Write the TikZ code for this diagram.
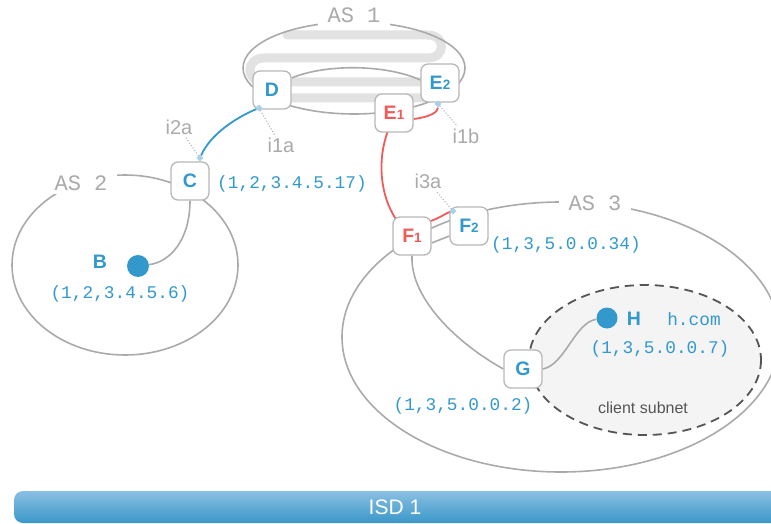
\documentclass[tikz,border=0pt]{standalone}
\usepackage{fontspec}
\setmainfont{Liberation Sans}
\newfontfamily\codefont{Liberation Mono}
\usetikzlibrary{calc, shapes.geometric}
\pgfdeclarelayer{back}
\pgfdeclarelayer{mid}
\pgfsetlayers{back,mid,main}

\definecolor{scionblue}{HTML}{3399CC}
\definecolor{scionred}{HTML}{F25A5A}
\definecolor{linegray}{HTML}{AAAAAA}
\definecolor{boxgray}{HTML}{B8B8B8}
\definecolor{labelgray}{HTML}{AAAAAA}
\definecolor{bandgray}{HTML}{E2E2E2}
\definecolor{subnetfill}{HTML}{F4F4F4}
\definecolor{dashgray}{HTML}{555555}
\definecolor{isdtop}{HTML}{8AC0E2}
\definecolor{isdbottom}{HTML}{3A97C9}
\definecolor{ifblue}{HTML}{A6D0EC}

\begin{document}
\begin{tikzpicture}[x=1pt, y=-1pt,
    router/.style={draw=boxgray, line width=1.3pt, fill=white, rounded corners=7pt,
      minimum size=38pt, inner sep=0pt, text=scionblue,
      font=\bfseries\fontsize{19.5}{20}\selectfont},
    asline/.style={draw=linegray, line width=1.6pt},
    link/.style={linegray, line width=1.6pt},
    bluelink/.style={scionblue, line width=1.8pt},
    redlink/.style={scionred, line width=1.8pt},
    aslabel/.style={fill=white, text=labelgray, inner xsep=10pt, anchor=base,
      font=\codefont\fontsize{22}{22}\selectfont},
    addr/.style={text=scionblue, inner sep=0pt, anchor=base,
      font=\codefont\fontsize{17.8}{18}\selectfont},
    iflabel/.style={text=labelgray, inner sep=2pt, anchor=base,
      font=\fontsize{20}{20}\selectfont},
    ifpoint/.style={diamond, fill=ifblue, inner sep=0pt, minimum size=7pt},
    leader/.style={labelgray, dotted, line width=1pt},
    host/.style={circle, fill=scionblue, inner sep=0pt, minimum size=22pt},
    hostname/.style={text=scionblue, anchor=base,
      font=\bfseries\fontsize{19.5}{20}\selectfont}]
  \useasboundingbox (0,0) rectangle (771,524);

  % 1. AS 外框與 client subnet
  \begin{pgfonlayer}{back}
    \draw[bandgray, line width=9pt, line cap=round] (287,35) -- (428,35)
      to[out=0, in=0, looseness=2] (428,58) -- (264,58)
      to[out=180, in=180, looseness=2] (264,82) -- (428,82)
      to[out=0, in=0, looseness=2] (428,98) -- (292,98);
    \draw[asline] (354,68) ellipse [x radius=111, y radius=46];
    \draw[asline] (125,265) ellipse [x radius=113, y radius=90];
    \draw[asline] (561,337) ellipse [x radius=219, y radius=135];
    \draw[dashgray, fill=subnetfill, line width=1.8pt, dash pattern=on 9pt off 6pt]
      (645,360) ellipse [x radius=116, y radius=75];
    \node[aslabel] (as1) at (354,23) {AS 1};
    \node[aslabel] (as2) at (81,190) {AS 2};
    \node[aslabel] (as3) at (595,210) {AS 3};
  \end{pgfonlayer}

  % 2. 路由器與主機
  \node[router] (D) at (272,90) {D};
  \node[router] (E2) at (440,83) {E{\fontsize{13.5}{13}\selectfont 2}};
  \node[router, text=scionred] (E1) at (394,113) {E{\fontsize{13.5}{13}\selectfont 1}};
  \node[router] (C) at (190,181) {C};
  \node[router, text=scionred] (F1) at (412,236) {F{\fontsize{13.5}{13}\selectfont 1}};
  \node[router] (F2) at (469,226) {F{\fontsize{13.5}{13}\selectfont 2}};
  \node[router] (G) at (523,369) {G};
  \node[host] (B) at (138,266) {};
  \node[host, minimum size=21pt] (H) at (607,318) {};

  % 3. 介面
  \node[ifpoint] (ifC) at (200,158) {};
  \node[ifpoint] (ifD) at (259,108) {};
  \node[ifpoint] (ifE) at (438,104) {};
  \node[ifpoint] (ifF) at (453,211) {};

  % 4. 連線
  \begin{pgfonlayer}{mid}
    \draw[bluelink] (ifC) .. controls (210,135) and (235,118) .. (ifD);
    \draw[link] (C.south) .. controls (190,240) and (170,262) .. (B);
    \draw[link] (G.east) .. controls (565,365) and (575,322) .. (H);
    \draw[link] (F1.south) .. controls (410,300) and (460,345) .. (G.west);
    \draw[link] ($(D.east)+(0,-12)$) .. controls (325,64) and (385,64) .. ($(E2.west)+(0,-3)$);
    \draw[link] ($(F1.east)+(0,7)$) -- ($(F2.west)+(0,10)$);
    \draw[redlink] ($(E1.east)+(0,6)$) .. controls (430,117) and (438,112) .. (ifE);
    \draw[redlink] ($(E1.south)+(-6,-2)$) .. controls (377,160) and (380,195) .. ($(F1.north)+(-16,3)$);
    \draw[redlink] ($(F1.north east)+(-2,5)$) .. controls (440,218) and (446,213) .. (ifF);
  \end{pgfonlayer}

  % 5. 介面標籤
  \node[iflabel] (i2a) at (179,135) {i2a};
  \node[iflabel] (i1a) at (281,153) {i1a};
  \node[iflabel] (i1b) at (466,143) {i1b};
  \node[iflabel] (i3a) at (428,189) {i3a};
  \draw[leader] (ifC) -- (i2a);
  \draw[leader] (ifD) -- (i1a);
  \draw[leader] (ifE) -- (i1b);
  \draw[leader] (ifF) -- (i3a);

  % 6. 位址
  \node[addr] (addrC) at (292,188) {(1,2,3.4.5.17)};
  \node[addr] (addrB) at (120,298) {(1,2,3.4.5.6)};
  \node[addr] (addrF) at (566,249) {(1,3,5.0.0.34)};
  \node[addr] (addrH) at (660,353) {(1,3,5.0.0.7)};
  \node[addr] (addrG) at (463,410) {(1,3,5.0.0.2)};
  \node[hostname] (nameB) at (100,268) {B};
  \node[hostname] (nameH) at (634,325) {H};
  \node[addr] (hcom) at (694,325) {h.com};
  \node[text=dashgray, anchor=base, font=\fontsize{16}{16}\selectfont] (subnet) at (643,413) {client subnet};

  % 7. ISD
  \shade[top color=isdtop, bottom color=isdbottom, rounded corners=9pt] (14,491) rectangle (800,523);
  \node[text=white, font=\fontsize{21}{21}\selectfont] (isd) at (395,507) {ISD 1};
\end{tikzpicture}
\end{document}
